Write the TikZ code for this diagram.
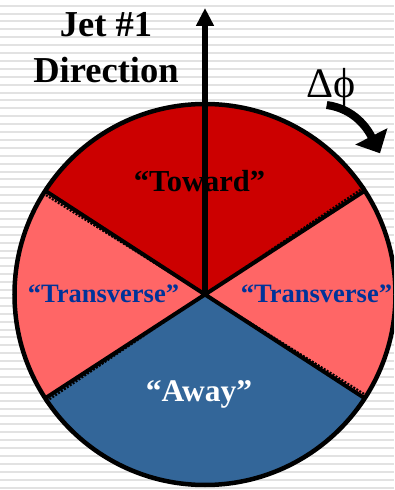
\documentclass[tikz,border=0pt]{standalone}
\usepackage{fontspec}
\setmainfont{Liberation Serif}
\usetikzlibrary{arrows.meta}
\definecolor{towardred}{HTML}{CC0000}
\definecolor{transred}{HTML}{FF6666}
\definecolor{awayblue}{HTML}{336699}
\definecolor{transtext}{HTML}{003399}
\definecolor{stripe}{HTML}{E2E2E2}
\begin{document}
\begin{tikzpicture}[x=1pt,y=1pt,
  lbl/.style={inner sep=0pt,anchor=base},
  rim/.style={line width=4pt},
  dots/.style={line width=2pt,dash pattern=on 2pt off 1.5pt}]
  \useasboundingbox (0,0) rectangle (394,490);
  \clip (0,0) rectangle (394,490);
  % striped background
  \fill[white] (0,0) rectangle (394,490);
  \foreach \k in {0,...,61}
    \fill[stripe] (0,{485.3-7.9*\k}) rectangle (394,{483.3-7.9*\k});
  % the four regions
  \def\rr{190.5}
  \coordinate (c) at (205,195.5);
  \path (c) ++(33:\rr) coordinate (ur) (c) ++(147:\rr) coordinate (ul)
        (c) ++(213:\rr) coordinate (ll) (c) ++(327:\rr) coordinate (lr);
  \fill[towardred] (c) -- (ur) arc[start angle=33,end angle=147,radius=\rr] -- cycle;
  \fill[transred] (c) -- (ul) arc[start angle=147,end angle=213,radius=\rr] -- cycle;
  \fill[awayblue] (c) -- (ll) arc[start angle=213,end angle=327,radius=\rr] -- cycle;
  \fill[transred] (c) -- (lr) arc[start angle=-33,end angle=33,radius=\rr] -- cycle;
  \draw[dots] (c) -- ([yshift=-4pt]ul);
  \draw[dots] (c) -- ([yshift=-4pt]ll);
  \draw[dots] (c) -- ([yshift=4pt]ur);
  \draw[dots] (c) -- ([yshift=4pt]lr);
  \draw[rim] (c) -- (ur) (c) -- (ul) (c) -- (ll) (c) -- (lr);
  \draw[line width=4.5pt] (c) circle[radius=\rr];
  % labels
  \node[lbl,align=center,font=\bfseries\fontsize{36.5}{46}\selectfont] (jetlbl) at (106,407) {Jet \#1\\Direction};
  \node[lbl,font=\bfseries\fontsize{30.5}{30.5}\selectfont] (toward) at (199.5,298) {“Toward”};
  \node[lbl,text=transtext,font=\bfseries\fontsize{26.5}{26.5}\selectfont] (transl) at (103.5,187) {“Transverse”};
  \node[lbl,text=transtext,font=\bfseries\fontsize{26.5}{26.5}\selectfont] (transr) at (316.5,187) {“Transverse”};
  \node[lbl,text=white,font=\bfseries\fontsize{31.5}{31.5}\selectfont] (away) at (199,88) {“Away”};
  \node[lbl,font=\fontsize{42}{42}\selectfont] (dphi) at (331,392) {Δϕ};
  % arrows
  \coordinate (jet) at (205,482);
  \draw[line width=5.5pt,-{Triangle[width=17pt,length=18pt]}] (c) -- (jet);
  \coordinate (rotfrom) at (326.7,385);
  \coordinate (rotto) at (380,336.7);
  \draw[line width=8pt,-{Triangle[width=35pt,length=19pt]}] (rotfrom) to[out=-8,in=117] (rotto);
\end{tikzpicture}
\end{document}
